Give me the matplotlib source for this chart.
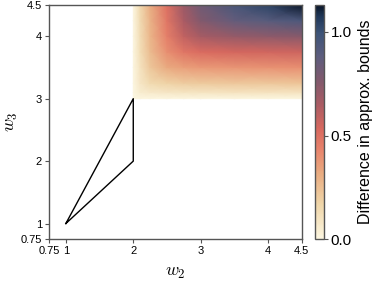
import matplotlib
matplotlib.use("Agg")
import matplotlib.pyplot as plt
import numpy as np
from matplotlib.colors import LinearSegmentedColormap

# grid of the heatmap
w2_grid = [2.0, 2.1, 2.25, 2.5, 2.75, 3.0, 3.5, 4.0, 4.5]
w3_grid = [3.0, 3.1, 3.25, 3.5, 3.75, 4.0, 4.25, 4.5]
diff = [
    [0.00, 0.00, 0.00, 0.00, 0.00, 0.00, 0.00, 0.00, 0.00],
    [0.00, 0.05, 0.07, 0.08, 0.09, 0.09, 0.10, 0.10, 0.10],
    [0.00, 0.08, 0.15, 0.18, 0.20, 0.21, 0.22, 0.22, 0.23],
    [0.00, 0.10, 0.22, 0.32, 0.35, 0.37, 0.38, 0.39, 0.40],
    [0.00, 0.12, 0.26, 0.40, 0.48, 0.52, 0.54, 0.55, 0.56],
    [0.00, 0.13, 0.28, 0.45, 0.59, 0.66, 0.71, 0.73, 0.75],
    [0.00, 0.14, 0.29, 0.48, 0.65, 0.76, 0.86, 0.90, 0.94],
    [0.00, 0.15, 0.31, 0.50, 0.69, 0.82, 0.95, 1.04, 1.13],
]

# region outline
poly_w2 = [1, 2, 2, 1]
poly_w3 = [1, 3, 2, 1]

ticks = [0.75, 1, 2, 3, 4, 4.5]
tick_labels = ["0.75", "1", "2", "3", "4", "4.5"]
cbar_ticks = [0.0, 0.5, 1.0]

plt.rcParams["font.family"] = ["Liberation Sans", "DejaVu Sans"]
plt.rcParams["mathtext.fontset"] = "cm"

cmap = LinearSegmentedColormap.from_list(
    "bounds",
    [
        (0.00, "#fcf6e0"),
        (0.15, "#efd5a8"),
        (0.28, "#e9ab80"),
        (0.38, "#e8846c"),
        (0.47, "#d8685e"),
        (0.58, "#a85b64"),
        (0.68, "#80596d"),
        (0.78, "#5d5d7e"),
        (0.88, "#3d5478"),
        (0.95, "#21395a"),
        (1.00, "#0a1628"),
    ],
)

fig = plt.figure(figsize=(3.74, 2.81), dpi=100)
ax = fig.add_axes([0.131, 0.149, 0.676, 0.833])
cax = fig.add_axes([0.842, 0.149, 0.024, 0.833])

X, Y = np.meshgrid(w2_grid, w3_grid)
mesh = ax.pcolormesh(X, Y, np.array(diff), cmap=cmap, vmin=0, vmax=1.13,
                     shading="gouraud", rasterized=True)
ax.plot(poly_w2, poly_w3, color="black", lw=1.0)

ax.set_xlim(0.75, 4.5)
ax.set_ylim(0.75, 4.5)
ax.set_xticks(ticks)
ax.set_xticklabels(tick_labels)
ax.set_yticks(ticks)
ax.set_yticklabels(tick_labels)
ax.tick_params(labelsize=8, length=3, width=0.8, color="#555555", pad=2)
for s in ax.spines.values():
    s.set_color("#555555")
    s.set_linewidth(1.0)
ax.set_xlabel("$w_2$", fontsize=13)
ax.xaxis.set_label_coords(0.5, -0.105)
ax.set_ylabel("$w_3$", fontsize=13)
ax.yaxis.set_label_coords(-0.115, 0.5)

cb = fig.colorbar(mesh, cax=cax, ticks=cbar_ticks)
cb.ax.tick_params(labelsize=11, length=3, width=0.8, color="#555555", pad=2)
cb.outline.set_edgecolor("#555555")
cb.outline.set_linewidth(1.0)
cb.set_label("Difference in approx. bounds", fontsize=11.5, labelpad=4)

fig.savefig("out.png", dpi=100)
